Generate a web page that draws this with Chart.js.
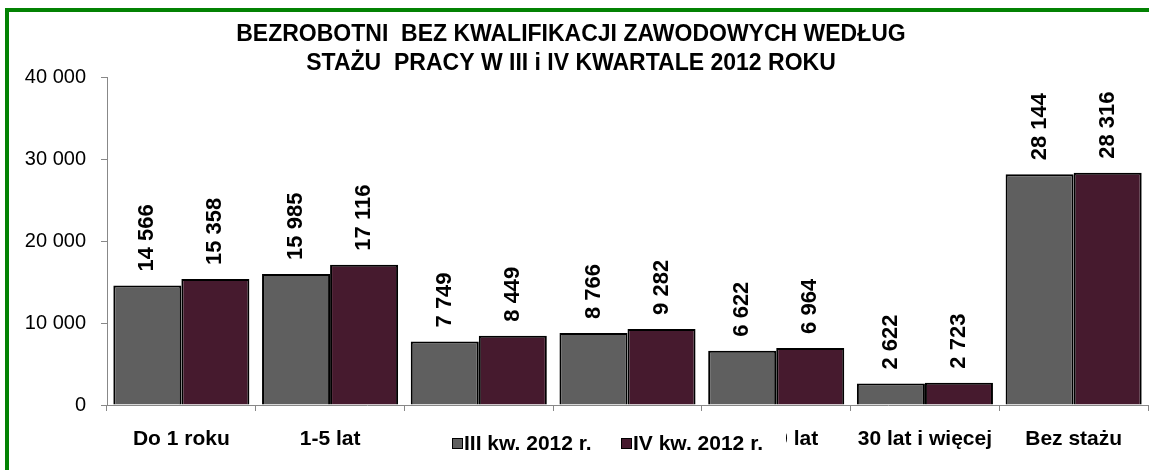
<!DOCTYPE html>
<html>
<head>
<meta charset="utf-8">
<script src="https://cdn.jsdelivr.net/npm/chart.js@4"></script>
<style>
  html, body { margin: 0; padding: 0; background: #fff; overflow: hidden; }
  #frame {
    position: absolute; left: 5px; top: 8px; width: 1200px; height: 500px;
    border-left: 4px solid #038203; border-top: 4px solid #038203;
  }
  #wrap { position: absolute; left: 0; top: 0; width: 1149px; height: 470px; }
</style>
</head>
<body>
<div id="frame"></div>
<div id="wrap"><canvas id="chart"></canvas></div>
<script>
const categories = ["Do 1 roku", "1-5 lat", "5-10 lat", "10-20 lat", "20-30 lat", "30 lat i więcej", "Bez stażu"];
const seriesNames = ["III kw. 2012 r.", "IV kw. 2012 r."];
const q3Values = [14566, 15985, 7749, 8766, 6622, 2622, 28144];
const q4Values = [15358, 17116, 8449, 9282, 6964, 2723, 28316];
const yTicks = [0, 10000, 20000, 30000, 40000];
const titleLines = ["BEZROBOTNI  BEZ KWALIFIKACJI ZAWODOWYCH WEDŁUG", "STAŻU  PRACY W III i IV KWARTALE 2012 ROKU"];

const fontFamily = "'Liberation Sans', Arial, sans-serif";

function fmt(v) {
  return String(v).replace(/\B(?=(\d{3})+(?!\d))/g, " ");
}

// rotated value labels above each bar
const valueLabels = {
  id: "valueLabels",
  afterDatasetsDraw(chart) {
    const ctx = chart.ctx;
    ctx.save();
    ctx.font = "bold 22px " + fontFamily;
    ctx.fillStyle = "#000";
    ctx.textAlign = "left";
    ctx.textBaseline = "middle";
    chart.data.datasets.forEach((ds, i) => {
      chart.getDatasetMeta(i).data.forEach((bar, j) => {
        ctx.save();
        ctx.translate(bar.x, bar.y - 14);
        ctx.rotate(-Math.PI / 2);
        ctx.fillText(fmt(ds.data[j]), 0, 0);
        ctx.restore();
      });
    });
    ctx.restore();
  },
};

// title, centred a bit left of the plot like the original
const titlePlugin = {
  id: "titlePlugin",
  afterDraw(chart) {
    const ctx = chart.ctx;
    ctx.save();
    ctx.font = "bold 23px " + fontFamily;
    ctx.fillStyle = "#000";
    ctx.textAlign = "center";
    ctx.textBaseline = "middle";
    ctx.fillText(titleLines[0], 571, 35);
    ctx.fillText(titleLines[1], 571, 64);
    ctx.restore();
  },
};

// legend box sitting on top of the middle category labels
const legendPlugin = {
  id: "legendPlugin",
  afterDraw(chart) {
    const ctx = chart.ctx;
    ctx.save();
    ctx.fillStyle = "#fff";
    ctx.fillRect(438, 418, 348, 50);
    ctx.font = "bold 21px " + fontFamily;
    ctx.textAlign = "left";
    ctx.textBaseline = "middle";
    const xs = [452, 621];
    chart.data.datasets.forEach((ds, i) => {
      ctx.fillStyle = ds.backgroundColor;
      ctx.fillRect(xs[i], 438, 11, 11);
      ctx.strokeStyle = "#000";
      ctx.lineWidth = 1;
      ctx.strokeRect(xs[i] + 0.5, 438.5, 10, 10);
      ctx.fillStyle = "#000";
      ctx.fillText(ds.label, xs[i] + 12, 444);
    });
    ctx.restore();
  },
};

new Chart(document.getElementById("chart"), {
  type: "bar",
  data: {
    labels: categories,
    datasets: [
      {
        label: seriesNames[0],
        data: q3Values,
        backgroundColor: "#5f5f5f",
        borderColor: "#000",
        borderWidth: 2,
      },
      {
        label: seriesNames[1],
        data: q4Values,
        backgroundColor: "#461a2e",
        borderColor: "#000",
        borderWidth: 2,
      },
    ],
  },
  options: {
    responsive: true,
    maintainAspectRatio: false,
    animation: false,
    layout: { padding: { top: 77, right: 1, left: 0, bottom: 0 } },
    datasets: {
      bar: { categoryPercentage: 0.915, barPercentage: 1.0 },
    },
    plugins: {
      legend: { display: false },
      title: { display: false },
      tooltip: { enabled: false },
    },
    scales: {
      x: {
        grid: {
          display: true,
          drawOnChartArea: false,
          drawTicks: true,
          tickLength: 6,
          color: "#888",
          offset: true,
        },
        border: { color: "#888", width: 1 },
        ticks: {
          color: "#000",
          font: { family: fontFamily, size: 21, weight: "bold" },
          padding: 16,
          maxRotation: 0,
          autoSkip: false,
        },
        afterFit(scale) { scale.height = 65; },
      },
      y: {
        min: 0,
        max: 40000,
        afterBuildTicks(scale) {
          scale.ticks = yTicks.map((v) => ({ value: v }));
        },
        grid: {
          display: true,
          drawOnChartArea: false,
          drawTicks: true,
          tickLength: 6,
          color: "#888",
        },
        border: { color: "#888", width: 1 },
        ticks: {
          color: "#000",
          font: { family: fontFamily, size: 20 },
          padding: 15,
          callback: (v) => fmt(v),
        },
        afterFit(scale) { scale.width = 107; },
      },
    },
  },
  plugins: [valueLabels, titlePlugin, legendPlugin],
});
</script>
</body>
</html>
